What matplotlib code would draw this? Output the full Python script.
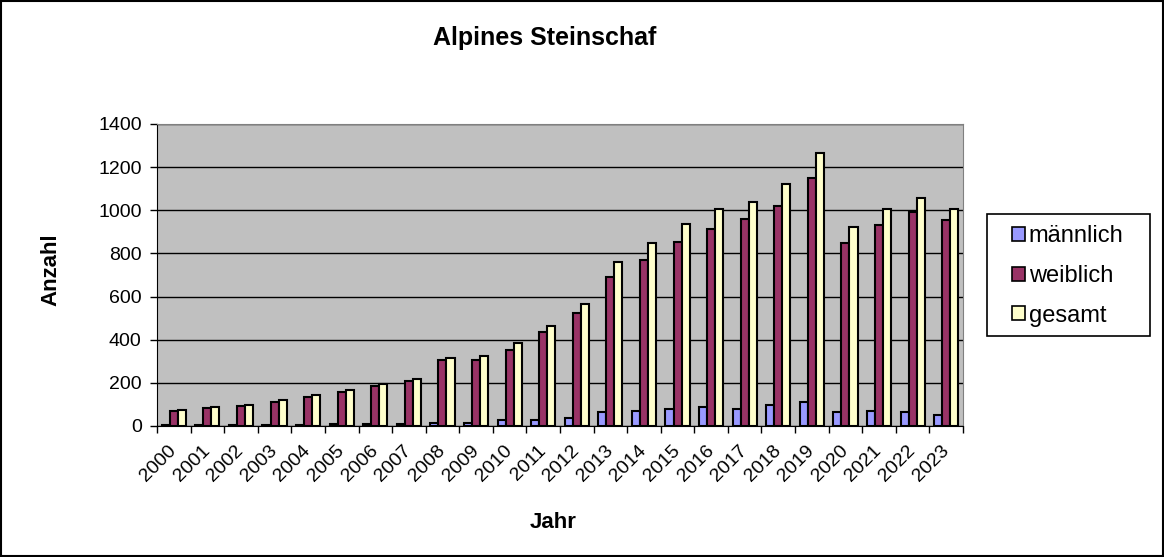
import numpy as np
import matplotlib
matplotlib.use("Agg")
import matplotlib.pyplot as plt
from matplotlib.ticker import MultipleLocator

plt.rcParams['font.family'] = ['Liberation Sans', 'DejaVu Sans']

years = [str(y) for y in range(2000, 2024)]
maennlich = [3, 4, 4, 6, 5, 8, 8, 8, 12, 14, 26, 27, 35, 66, 71, 80, 90, 77, 97, 111, 66, 71, 66, 51]
weiblich = [70, 82, 91, 113, 136, 159, 187, 210, 304, 307, 354, 434, 525, 692, 771, 854, 915, 961, 1021, 1151, 848, 933, 990, 954]
gesamt = [75, 87, 96, 122, 142, 168, 196, 219, 317, 326, 383, 465, 564, 760, 850, 938, 1007, 1040, 1123, 1267, 924, 1007, 1058, 1007]

series = [("männlich", maennlich, "#9999FF"),
          ("weiblich", weiblich, "#993366"),
          ("gesamt", gesamt, "#FFFFCC")]


def main():
    fig = plt.figure(figsize=(11.64, 5.57), dpi=100)
    ax = fig.add_axes([157 / 1164, 1 - 426 / 557, 806 / 1164, 302 / 557])
    ax.set_facecolor("#C0C0C0")

    x = np.arange(len(years))
    w = 0.24
    for i, (name, vals, col) in enumerate(series):
        ax.bar(x + (i - 1) * w, vals, w, color=col, edgecolor="black",
               linewidth=1.5, label=name, zorder=3)

    ax.set_xlim(-0.5, len(years) - 0.5)
    ax.set_ylim(0, 1400)
    ax.yaxis.set_major_locator(MultipleLocator(200))
    ax.grid(axis='y', color='black', linewidth=1, zorder=1)
    ax.set_axisbelow(True)

    ax.set_xticks(x)
    ax.set_xticklabels(years, rotation=45, ha='right', va='center',
                       rotation_mode='anchor', fontsize=14)
    ax.set_xticks(np.arange(len(years) + 1) - 0.5, minor=True)
    ax.tick_params(axis='x', which='major', length=0, pad=16)
    ax.tick_params(axis='x', which='minor', length=5, direction='out', width=1)
    ax.tick_params(axis='y', length=5, direction='out', labelsize=14, width=1, pad=6)

    for s in ['top', 'right']:
        ax.spines[s].set_color('#808080')
    for s in ['left', 'bottom']:
        ax.spines[s].set_color('black')

    fig.text(545 / 1164, 1 - 38 / 557, "Alpines Steinschaf", ha='center',
             va='center', fontsize=18, fontweight='bold')
    fig.text(51 / 1164, 1 - 270 / 557, "Anzahl", rotation=90, ha='center',
             va='center', fontsize=16, fontweight='bold')
    fig.text(553 / 1164, 1 - 523 / 557, "Jahr", ha='center', va='center',
             fontsize=16, fontweight='bold')

    # legend without its own frame; box drawn separately (wide side padding)
    leg = fig.legend(loc='center', bbox_to_anchor=(1068 / 1164, 1 - 276 / 557),
                     fontsize=17, frameon=False,
                     handlelength=0.55, handleheight=0.55, handletextpad=0.15,
                     labelspacing=0.75, borderpad=0, borderaxespad=0)
    for h in leg.legend_handles:
        h.set_linewidth(1.2)
    fig.patches.append(plt.Rectangle((987 / 1164, 1 - 336 / 557), 163 / 1164, 122 / 557,
                                     transform=fig.transFigure, fill=False,
                                     edgecolor='black', linewidth=1.2))

    fig.patches.append(plt.Rectangle((0.001, 0.001), 0.998, 0.997, transform=fig.transFigure,
                                     fill=False, edgecolor='black', linewidth=1.5))

    fig.savefig("out.png", dpi=100)


if __name__ == '__main__':
    main()
